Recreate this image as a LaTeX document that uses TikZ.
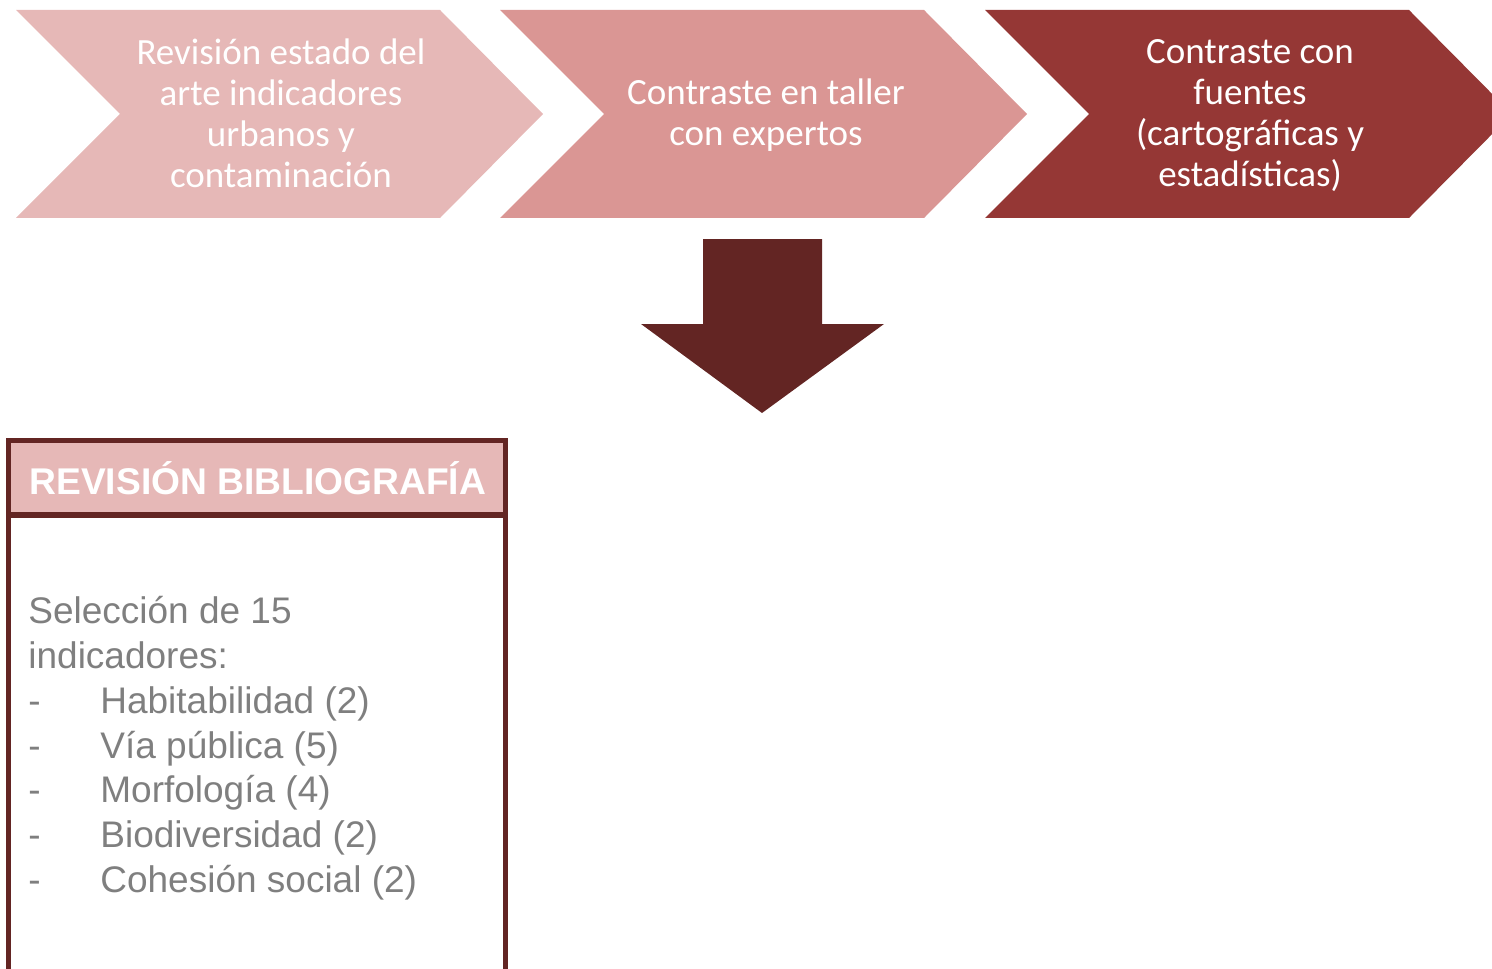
\documentclass[tikz,border=0pt]{standalone}
\usepackage{fontspec}
\setmainfont{Liberation Sans}
\newfontfamily\calibrifont{Carlito}
\definecolor{rosaclaro}{HTML}{E6B8B7}
\definecolor{rosamedio}{HTML}{DA9694}
\definecolor{granate}{HTML}{953735}
\definecolor{granateosc}{HTML}{632523}
\definecolor{grisTexto}{HTML}{7F7F7F}

\begin{document}
\begin{tikzpicture}[x=0.5pt, y=-0.5pt,
    pasotexto/.style={text=white, align=center, inner sep=0pt,
        font=\calibrifont\fontsize{18.5}{20.5}\selectfont},
    cajatitulo/.style={text=white, anchor=base west, inner sep=0pt,
        font=\bfseries\fontsize{18.6}{21}\selectfont},
    cajatexto/.style={text=grisTexto, anchor=north west, align=left, inner sep=0pt,
        font=\fontsize{18.5}{22.4}\selectfont},
    ]
    \clip (0,0) rectangle (1492,968);

    % pasos
    \fill[rosaclaro] (16,10) -- ++(424,0) -- ++(103,104) -- ++(-103,104)
        -- ++(-424,0) -- ++(104,-104) -- cycle;
    \fill[rosamedio] (500,10) -- ++(424,0) -- ++(103,104) -- ++(-103,104)
        -- ++(-424,0) -- ++(104,-104) -- cycle;
    \fill[granate] (985,10) -- ++(424,0) -- ++(103,104) -- ++(-103,104)
        -- ++(-424,0) -- ++(104,-104) -- cycle;

    \node[pasotexto] (revision) at (281,113)
        {Revisión estado del\\arte indicadores\\urbanos y\\contaminación};
    \node[pasotexto] (taller) at (766,115)
        {Contraste en taller\\con expertos};
    \node[pasotexto] (fuentes) at (1250,116)
        {Contraste con\\fuentes\\(cartográficas y\\estadísticas)};

    % flecha hacia abajo
    \fill[granateosc] (703,239) -- (822,239) -- (822,324) -- (884,324)
        -- (762,413) -- (641,324) -- (703,324) -- cycle;

    % caja de resultados
    \fill[rosaclaro] (8,440) rectangle (505,515);
    \draw[granateosc, line width=3pt] (8,515) -- (505,515);
    \draw[granateosc, line width=2.5pt] (8,1000) -- (8,440) -- (505,440) -- (505,1000);

    \node[cajatitulo] (titulo) at (29,494) {REVISIÓN BIBLIOGRAFÍA};
    \node[cajatexto] (seleccion) at (28,596)
        {Selección de 15\\indicadores:\\
         \makebox[36pt][l]{-}Habitabilidad (2)\\
         \makebox[36pt][l]{-}Vía pública (5)\\
         \makebox[36pt][l]{-}Morfología (4)\\
         \makebox[36pt][l]{-}Biodiversidad (2)\\
         \makebox[36pt][l]{-}Cohesión social (2)};
\end{tikzpicture}
\end{document}
